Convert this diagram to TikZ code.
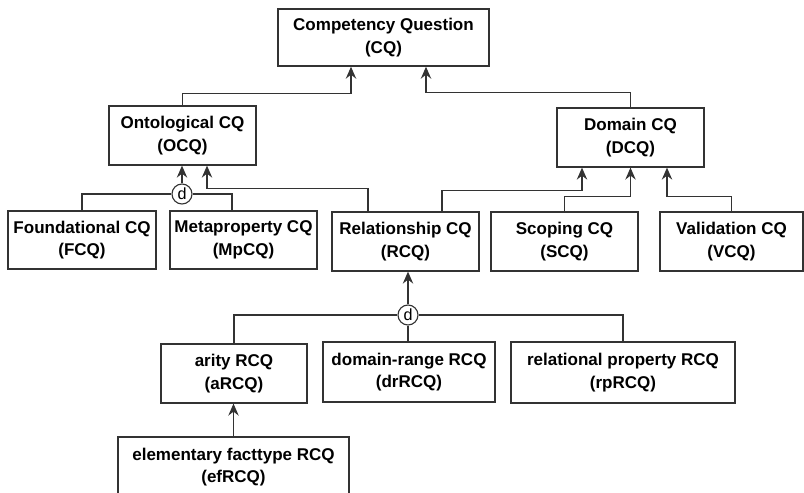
\documentclass[tikz,border=0pt]{standalone}
\usepackage{fontspec}
\setsansfont{Liberation Sans}
\usetikzlibrary{arrows.meta,positioning,calc}

\begin{document}
\begin{tikzpicture}[
  x=0.025cm,y=-0.025cm,
  font=\sffamily\bfseries\fontsize{12.1pt}{16pt}\selectfont,
  box/.style={draw=black!80,line width=1pt,fill=white,align=center,
              minimum width=3.675cm,minimum height=1.47cm,inner sep=2pt},
  disj/.style={circle,draw=black!80,line width=0.8pt,fill=white,inner sep=0pt,
               minimum size=0.5cm,font=\sffamily\fontsize{11.5pt}{12pt}\selectfont},
  fl/.style={-{Stealth[length=3mm,width=2.6mm,inset=1mm]},line width=1pt,draw=black!80},
  ln/.style={line width=1pt,draw=black!80}
]
\useasboundingbox (0,0) rectangle (804,493);

% top
\node[box,minimum width=5.275cm,minimum height=1.425cm] (cq) at (383.5,37.5)
  {Competency Question\\(CQ)};
\node[box] (ocq) at (182.5,135.5) {Ontological CQ\\(OCQ)};
\node[box] (dcq) at (630.5,137.5) {Domain CQ\\(DCQ)};

% second row
\node[box,minimum width=3.7cm,minimum height=1.45cm] (fcq) at (82,240) {Foundational CQ\\(FCQ)};
\node[box,minimum height=1.45cm] (mpcq) at (243.5,240) {Metaproperty CQ\\(MpCQ)};
\node[box] (rcq) at (405.5,241.5) {Relationship CQ\\(RCQ)};
\node[box] (scq) at (564.5,241.5) {Scoping CQ\\(SCQ)};
\node[box,minimum width=3.575cm] (vcq) at (731.5,241.5) {Validation CQ\\(VCQ)};

% RCQ kinds
\node[box,minimum width=3.65cm] (arcq) at (234,373.5) {arity RCQ\\(aRCQ)};
\node[box,minimum width=4.3cm,minimum height=1.5cm] (drrcq) at (409,372) {domain-range RCQ\\(drRCQ)};
\node[box,minimum width=5.6cm,minimum height=1.525cm] (rprcq) at (623,372.5) {relational property RCQ\\(rpRCQ)};
\node[box,minimum width=5.775cm,minimum height=1.5cm] (efrcq) at (233.5,467) {elementary facttype RCQ\\(efRCQ)};

% disjoint markers
\node[disj] (d1) at (182,194) {d};
\node[disj] (d2) at (408,315) {d};

% to CQ
\draw[fl] (ocq.north) -- ++(0,-12) -| ($(cq.south)+(-32.5,0)$);
\draw[fl] (dcq.north) -- ++(0,-15) -| ($(cq.south)+(42.5,0)$);

% to OCQ
\draw[ln] (d1.west) -| (fcq.north);
\draw[ln] (d1.east) -| ($(mpcq.north)+(-11.5,0)$);
\draw[fl] (d1.north) -- (d1 |- ocq.south);
\draw[fl] ($(rcq.north)+(-37.5,0)$) -- ++(0,-23) -| ($(ocq.south)+(24.5,0)$);

% to DCQ
\draw[fl] ($(rcq.north)+(36.5,0)$) -- ++(0,-21) -| ($(dcq.south)+(-48.5,0)$);
\draw[fl] (scq.north) -- ++(0,-15) -| (dcq.south);
\draw[fl] (vcq.north) -- ++(0,-15) -| ($(dcq.south)+(36.5,0)$);

% to RCQ
\draw[ln] (d2.west) -| (arcq.north);
\draw[ln] (d2.south) -- (d2 |- drrcq.north);
\draw[ln] (d2.east) -| (rprcq.north);
\draw[fl] (d2.north) -- (d2 |- rcq.south);

\draw[fl] (efrcq.north) -- (efrcq.north |- arcq.south);

\end{tikzpicture}
\end{document}
